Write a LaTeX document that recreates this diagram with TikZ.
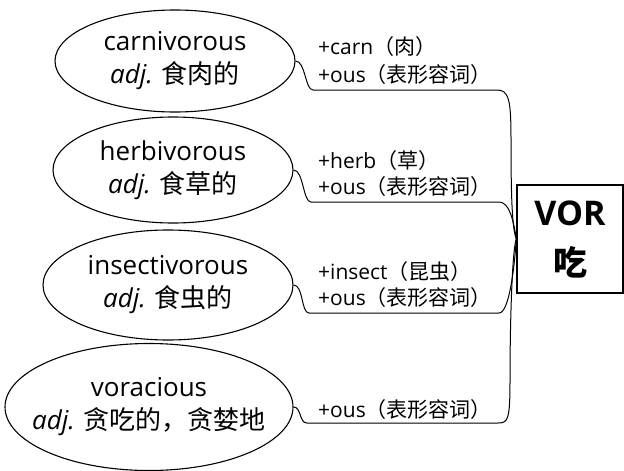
\documentclass[tikz,border=0pt]{standalone}
\usepackage{fontspec}
\setmainfont{Open Sans}
\newfontfamily\cjk{Noto Sans CJK SC}
\usetikzlibrary{shapes.geometric}

\begin{document}
\begin{tikzpicture}[x=1pt,y=-1pt,
    word/.style={draw,ellipse,line width=1.1pt,inner sep=0pt,align=center,
      font=\fontsize{26}{33}\selectfont},
    part/.style={anchor=west,inner sep=0pt,font=\fontsize{21}{24}\selectfont},
    link/.style={line width=1pt},
    root/.style={draw,line width=1.4pt,minimum width=106pt,minimum height=108pt,
      align=center,font=\fontsize{34}{50}\selectfont\bfseries}]

  \useasboundingbox (0,0) rectangle (624,471);

  % Draw the root box
  \node[root] (vor) at (570,239) {VOR\\{\cjk 吃}};

  % Draw the words
  \node[word,minimum width=240pt,minimum height=102pt] (carn) at (175,61)
    {carnivorous\\\textit{adj.} {\cjk 食肉的}};
  \node[word,minimum width=240pt,minimum height=106pt] (herb) at (173,170)
    {herbivorous\\\textit{adj.} {\cjk 食草的}};
  \node[word,minimum width=250pt,minimum height=110pt] (insect) at (168,285)
    {insectivorous\\\textit{adj.} {\cjk 食虫的}};
  \node[word,minimum width=288pt,minimum height=127pt] (vora) at (149,407)
    {\makebox[0pt]{voracious}\\\makebox[0pt]{\textit{adj.} {\cjk 贪吃的，贪婪地}}};

  % Draw the word parts
  \node[part] (carnA) at (318,47) {+carn{\cjk （肉）}};
  \node[part] (carnB) at (318,75) {+ous{\cjk （表形容词）}};
  \node[part] (herbA) at (318,161) {+herb{\cjk （草）}};
  \node[part] (herbB) at (318,187) {+ous{\cjk （表形容词）}};
  \node[part] (insectA) at (318,272) {+insect{\cjk （昆虫）}};
  \node[part] (insectB) at (318,298) {+ous{\cjk （表形容词）}};
  \node[part] (voraA) at (318,410) {+ous{\cjk （表形容词）}};

  % Draw the connectors
  \draw[link] (carn.east) .. controls +(10,0) and +(-8,0) .. (313,90) -- (497,90)
    .. controls +(12,0) and +(0,-40) .. (511,140)
    .. controls +(0,60) and +(-4,-10) .. (vor.west);
  \draw[link] (herb.east) .. controls +(10,0) and +(-8,0) .. (311,202) -- (499,202)
    .. controls +(10,0) and +(-3,-20) .. (vor.west);
  \draw[link] (insect.east) .. controls +(10,0) and +(-8,0) .. (309,313) -- (499,313)
    .. controls +(10,0) and +(-2,30) .. (vor.west);
  \draw[link] (vora.east) .. controls +(8,0) and +(-8,0) .. (307,423) -- (498,423)
    .. controls +(10,0) and +(0,40) .. (510,380)
    .. controls +(0,-60) and +(-4,10) .. (vor.west);

\end{tikzpicture}
\end{document}
